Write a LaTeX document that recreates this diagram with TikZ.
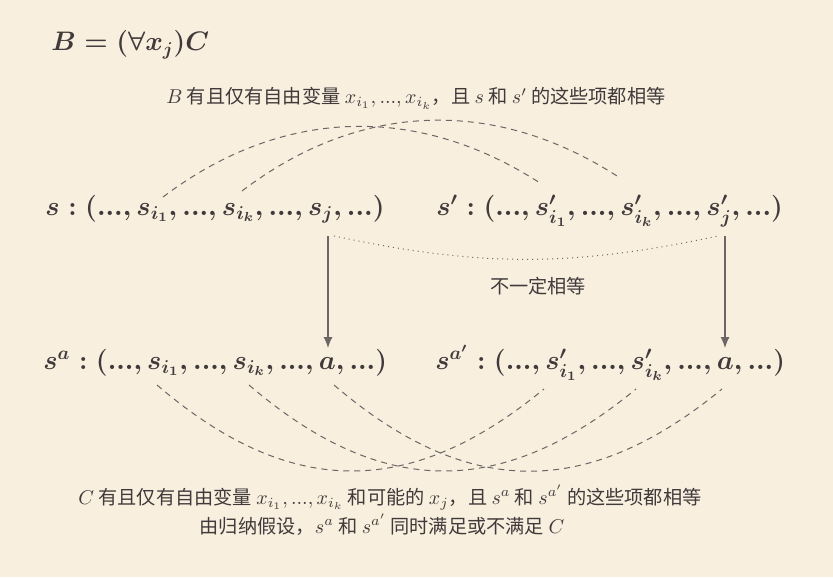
\documentclass[tikz,border=0pt]{standalone}
\usepackage{fontspec}
\newfontfamily\cjk{Noto Sans CJK SC}
\usetikzlibrary{arrows.meta}
\definecolor{bg}{HTML}{F8EFDF}
\definecolor{ink}{HTML}{413A3A}
\definecolor{ln}{HTML}{6E6666}
\tikzset{
  rowtxt/.style={inner sep=0pt, anchor=base west, text=ink, scale=0.934, transform shape, font=\fontsize{14.4}{17}\selectfont\boldmath},
  cjktxt/.style={inner sep=0pt, anchor=base, text=ink, font=\fontsize{9.6}{11}\selectfont\cjk},
  dashlink/.style={draw=ln, line width=0.5pt, dash pattern=on 3pt off 2.5pt},
  maparrow/.style={draw=ln, line width=0.55pt, -{Latex[length=5.5pt,width=4.5pt]}},
}
\begin{document}
\begin{tikzpicture}[x=0.5pt,y=-0.5pt]
\fill[bg] (0,0) rectangle (833,577);
\useasboundingbox (0,0) rectangle (833,577);

\node[inner sep=0pt, anchor=base west, text=ink, scale=0.93, transform shape, font=\fontsize{14.4}{17}\selectfont\boldmath] (title) at (51,51) {$B=(\forall x_j)C$};

\node[cjktxt] (top) at (416,104) {$B$ 有且仅有自由变量 $x_{i_1},...,x_{i_k}$，且 $s$ 和 $s'$ 的这些项都相等};

\node[rowtxt] (r1l) at (45,215) {$s:(...,s_{i_1},...,s_{i_k},...,s_j,...)$};
\node[rowtxt] (r1r) at (436,215) {$s':(...,s'_{i_1},...,s'_{i_k},...,s'_j,...)$};
\node[rowtxt] (r2l) at (43,369) {$s^a:(...,s_{i_1},...,s_{i_k},...,a,...)$};
\node[rowtxt] (r2r) at (435,369) {$s^{a'}:(...,s'_{i_1},...,s'_{i_k},...,a,...)$};

\node[cjktxt] (neq) at (538,293) {不一定相等};

\node[cjktxt] (bot1) at (390,504) {$C$ 有且仅有自由变量 $x_{i_1},...,x_{i_k}$ 和可能的 $x_j$，且 $s^a$ 和 $s^{a'}$ 的这些项都相等};
\node[cjktxt] (bot2) at (382,533) {由归纳假设，$s^a$ 和 $s^{a'}$ 同时满足或不满足 $C$};

% anchor points
\coordinate (ta1) at (163,197);
\coordinate (ta2) at (540,183);
\coordinate (tb1) at (242,191);
\coordinate (tb2) at (617,176);
\coordinate (ba1) at (157,385);
\coordinate (ba2) at (544,389);
\coordinate (bb1) at (249,385);
\coordinate (bb2) at (636,389);
\coordinate (bc1) at (334,385);
\coordinate (bc2) at (722,389);
\coordinate (la) at (328,236);
\coordinate (lb) at (328,348);
\coordinate (ra) at (725,236);
\coordinate (rb) at (725,348);
\coordinate (da) at (334,236);
\coordinate (db) at (718,236);

\draw[dashlink] (ta1) to[bend left=35] (ta2);
\draw[dashlink] (tb1) to[bend left=35] (tb2);
\draw[dashlink] (ba1) to[bend right=40, looseness=1.15] (ba2);
\draw[dashlink] (bb1) to[bend right=40, looseness=1.15] (bb2);
\draw[dashlink] (bc1) to[bend right=40, looseness=1.15] (bc2);

\draw[maparrow] (la) -- (lb);
\draw[maparrow] (ra) -- (rb);
\draw[draw=ln, line width=0.5pt, dotted] (da) to[bend right=12] (db);
\end{tikzpicture}
\end{document}
